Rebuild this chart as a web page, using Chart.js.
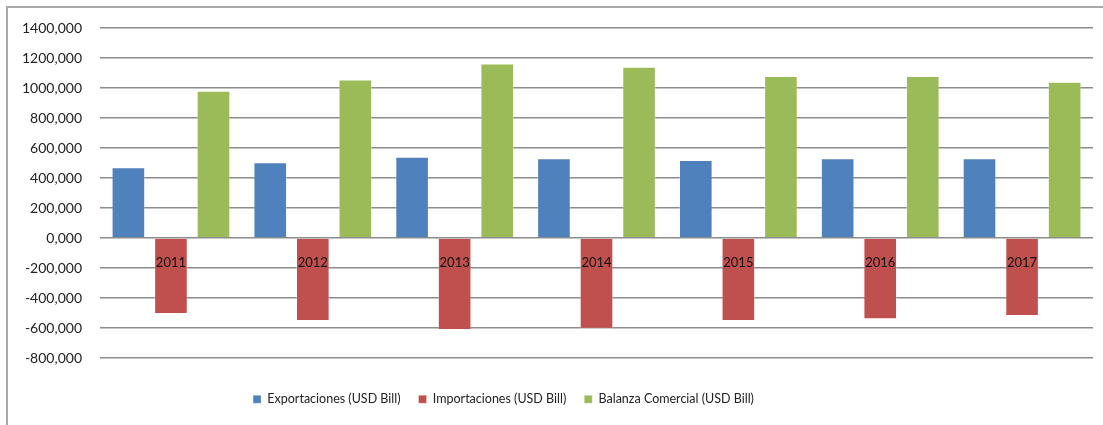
<!DOCTYPE html>
<html>
<head>
<meta charset="utf-8">
<script src="https://cdn.jsdelivr.net/npm/chart.js@4"></script>
<style>
    html, body { margin: 0; padding: 0; background: #fff; }
    #wrap { position: relative; width: 1103px; height: 425px; overflow: hidden; }
    #frame {
        position: absolute; left: 6px; top: 6px; width: 1200px; height: 500px;
        border-left: 2px solid #a8a8a8; border-top: 2px solid #a8a8a8;
        pointer-events: none;
    }
</style>
</head>
<body>
<div id="wrap">
    <canvas id="tradeChart" width="1103" height="425"></canvas>
    <div id="frame"></div>
</div>
<script>
// Values
const years = ['2011', '2012', '2013', '2014', '2015', '2016', '2017'];
const exportaciones = [471, 505, 542, 531, 520, 531, 531];
const importaciones = [-507, -553, -613, -605, -553, -542, -520];
const balanza = [982, 1056, 1164, 1142, 1080, 1080, 1042];

const FONT = 'Lato, Calibri, "Open Sans", sans-serif';
const PLOT_BOTTOM = 358;

// reserve room for the legend, push it below the plot and a bit to the left
const legendSpace = {
    id: 'legendSpace',
    beforeInit(chart) {
        const origFit = chart.legend.fit;
        chart.legend.fit = function() {
            origFit.bind(chart.legend)();
            this.height = 425 - PLOT_BOTTOM;
        };
    },
    afterLayout(chart) {
        const lg = chart.legend;
        const shift = chart.chartArea.bottom + 17 - lg.top;
        lg.top += shift;
        lg.bottom += shift;
        lg.left -= 45;
        lg.right -= 45;
        lg.adjustHitBoxes();
    }
};

document.addEventListener('DOMContentLoaded', () => {
    const ctx = document.getElementById('tradeChart').getContext('2d');
    new Chart(ctx, {
        type: 'bar',
        data: {
            labels: years,
            datasets: [{
                label: 'Exportaciones (USD Bill)',
                data: exportaciones,
                backgroundColor: '#4F81BD',
                borderColor: 'rgba(255,255,255,0.3)',
                borderWidth: 1
            }, {
                label: 'Importaciones (USD Bill)',
                data: importaciones,
                backgroundColor: '#C0504D',
                borderColor: 'rgba(255,255,255,0.3)',
                borderWidth: 1
            }, {
                label: 'Balanza Comercial (USD Bill)',
                data: balanza,
                backgroundColor: '#9BBB59',
                borderColor: 'rgba(255,255,255,0.3)',
                borderWidth: 1
            }]
        },
        options: {
            responsive: false,
            animation: false,
            categoryPercentage: 0.9,
            barPercentage: 0.79,
            layout: {
                padding: { left: 4, right: 10, top: 28, bottom: 0 }
            },
            plugins: {
                legend: {
                    position: 'bottom',
                    labels: {
                        boxWidth: 8,
                        boxHeight: 8,
                        padding: 18,
                        color: '#222',
                        font: { family: FONT, size: 12.5 }
                    }
                },
                tooltip: { enabled: false }
            },
            scales: {
                x: {
                    position: { y: 0 },
                    grid: { display: false, drawTicks: false },
                    border: { display: false },
                    ticks: {
                        z: 1,
                        padding: 17,
                        color: '#111',
                        font: { family: FONT, size: 13 }
                    }
                },
                y: {
                    min: -800,
                    max: 1400,
                    grid: {
                        color: '#8c8c8c',
                        lineWidth: 1.5,
                        drawTicks: false
                    },
                    border: { display: false },
                    ticks: {
                        stepSize: 200,
                        padding: 18,
                        color: '#222',
                        font: { family: FONT, size: 14 },
                        callback: function(value) {
                            return value + ',000';
                        }
                    }
                }
            }
        },
        plugins: [legendSpace]
    });
});
</script>
</body>
</html>
